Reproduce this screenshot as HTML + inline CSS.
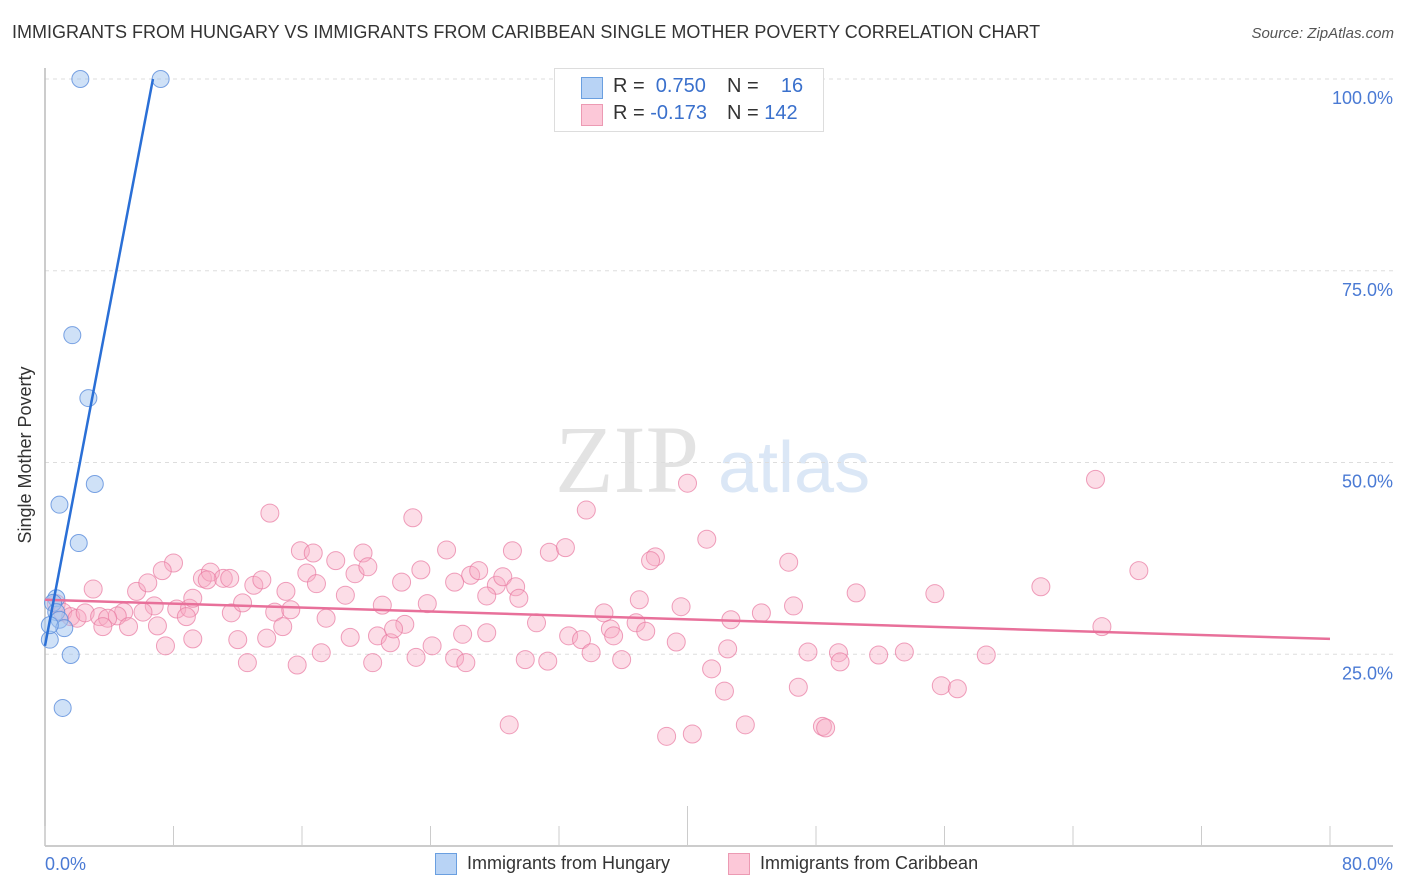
<!DOCTYPE html>
<html><head><meta charset="utf-8">
<style>
body{margin:0;background:#fff;font-family:"Liberation Sans",sans-serif;}
#wrap{position:relative;width:1406px;height:892px;overflow:hidden;}
.t{position:absolute;white-space:nowrap;}
</style></head>
<body>
<div id="wrap">
<div class="t" style="left:12px;top:22px;font-size:18px;color:#333;">IMMIGRANTS FROM HUNGARY VS IMMIGRANTS FROM CARIBBEAN SINGLE MOTHER POVERTY CORRELATION CHART</div>
<div class="t" style="right:12px;top:25px;font-size:15px;color:#555;font-style:italic;">Source: ZipAtlas.com</div>
<svg id="chart" width="1406" height="892" style="position:absolute;left:0;top:0">
<text x="555" y="492" font-family="Liberation Serif,serif" font-size="96" fill="#e3e3e3">ZIP</text>
<text x="718" y="492" font-family="Liberation Sans,sans-serif" font-size="72" fill="#dbe7f6">atlas</text>
<g id="grid"></g><g id="axes"></g><g id="pts"></g><g id="lines"></g>
<text x="19" y="455" transform="rotate(-90 19 455) translate(0 0)" text-anchor="middle" font-size="18" fill="#333" dy="12">Single Mother Poverty</text>
<text x="45" y="870" font-size="18" fill="#4a7ad4">0.0%</text>
<text x="1393" y="870" font-size="18" fill="#4a7ad4" text-anchor="end">80.0%</text>
</svg>
<div style="position:absolute;left:554px;top:68px;width:268px;height:62px;border:1px solid #ddd;background:#fff;font-size:20px;">
 <div style="position:absolute;left:26px;top:8px;width:20px;height:20px;background:#b8d3f5;border:1px solid #6a9fe0;"></div>
 <div class="t" style="left:58px;top:6px;color:#333;">R = <span style="color:#3a70cc">&nbsp;0.750</span></div>
 <div class="t" style="left:172px;top:6px;color:#333;">N = <span style="color:#3a70cc">&nbsp;&nbsp;&nbsp;16</span></div>
 <div style="position:absolute;left:26px;top:35px;width:20px;height:20px;background:#fcc8d8;border:1px solid #ec9ab3;"></div>
 <div class="t" style="left:58px;top:33px;color:#333;">R = <span style="color:#3a70cc">-0.173</span></div>
 <div class="t" style="left:172px;top:33px;color:#333;">N = <span style="color:#3a70cc">142</span></div>
</div>
<div>
 <div style="position:absolute;left:435px;top:853px;width:20px;height:20px;background:#b8d3f5;border:1px solid #6a9fe0;"></div>
 <div class="t" style="left:467px;top:853px;font-size:18px;color:#333;">Immigrants from Hungary</div>
 <div style="position:absolute;left:728px;top:853px;width:20px;height:20px;background:#fcc8d8;border:1px solid #ec9ab3;"></div>
 <div class="t" style="left:760px;top:853px;font-size:18px;color:#333;">Immigrants from Caribbean</div>
</div>
</div>
<script>
const yTicks=[25,50,75,100];
const yTickLabels=["25.0%","50.0%","75.0%","100.0%"];
const xTicks=[0,8,16,24,32,40,48,56,64,72,80];
const hungaryX=[2.2,7.2,1.7,2.7,3.1,0.9,2.1,0.7,0.5,0.7,0.9,1.2,0.3,1.6,1.1,0.3];
const hungaryY=[100,100,66.6,58.4,47.2,44.5,39.5,32.3,31.7,30.5,29.5,28.4,26.9,24.9,18.0,28.8];
const caribX=[14.0,22.9,33.7,40.0,65.4,41.2,25.0,15.9,16.7,18.1,19.8,29.1,31.4,32.4,38.0,37.7,46.3,8.0,7.3,16.3,19.3,20.1,23.4,26.5,27.0,28.1,28.5,29.3,68.1,3.0,5.7,6.4,9.8,10.3,11.1,10.1,11.5,13.0,13.5,15.0,16.9,18.7,22.2,25.5,27.5,29.5,37.0,50.5,55.4,62.0,46.6,39.6,44.6,34.8,4.9,6.8,8.2,9.0,4.5,6.1,11.6,12.3,14.3,15.3,21.0,23.8,17.5,22.4,30.6,36.8,42.7,35.2,35.4,37.4,0.7,1.1,1.6,2.0,2.5,3.4,3.9,3.6,5.2,7.0,8.8,14.8,9.2,19.0,20.7,21.5,24.1,26.0,27.5,32.6,33.4,39.3,42.5,47.5,49.4,51.9,53.5,58.6,65.8,7.5,9.2,12.0,13.8,21.7,17.2,23.1,25.5,26.2,29.9,31.3,34.0,35.9,12.6,15.7,20.4,41.5,42.3,46.9,55.8,56.8,49.5,28.9,38.7,40.3,43.6,48.4,48.6];
const caribY=[43.4,42.8,43.8,47.3,47.8,40.0,38.6,38.5,38.2,37.2,38.2,38.5,38.3,38.9,37.7,37.2,37.0,36.9,35.9,35.6,35.5,36.4,36.0,35.3,35.9,34.0,35.1,33.8,35.9,33.5,33.2,34.3,34.9,35.7,34.9,34.7,34.9,34.0,34.7,33.2,34.2,32.7,34.4,34.4,32.6,32.3,32.1,33.0,32.9,33.8,31.3,31.2,30.4,30.4,30.5,31.3,30.9,31.0,30.0,30.5,30.4,31.7,30.5,30.8,31.4,31.6,29.7,28.9,29.1,29.1,29.5,28.3,27.4,28.0,31.6,30.5,29.9,29.7,30.4,29.9,29.7,28.6,28.6,28.7,29.9,28.6,32.3,27.2,27.4,26.5,26.1,27.6,27.8,27.4,26.9,26.6,25.7,25.3,25.2,24.9,25.3,24.9,28.6,26.1,27.0,26.9,27.1,28.3,25.2,24.6,24.5,23.9,24.3,24.1,25.2,24.3,23.9,23.6,23.9,23.1,20.2,20.7,20.9,20.5,24.0,15.8,14.3,14.6,15.8,15.6,15.4];
const hungaryLine=[[0,26.1],[6.72,100]];
const caribLine=[[0,32.1],[80,27.0]];
const NS="http://www.w3.org/2000/svg";
const sx=v=>45+v/80*1285, sy=v=>846-v/100*767;
function mk(tag,attrs,parent){const e=document.createElementNS(NS,tag);for(const k in attrs)e.setAttribute(k,attrs[k]);document.getElementById(parent).appendChild(e);return e;}
yTicks.forEach((t,i)=>{
 const l=mk('line',{x1:45,x2:1393,y1:sy(t),y2:sy(t),stroke:'#ddd','stroke-dasharray':'4,4'},'grid');
 
 
 const tx=mk('text',{x:1393,y:sy(t)+25,'text-anchor':'end','font-size':18,fill:'#4a7ad4'},'grid');
 tx.textContent=yTickLabels[i];
 
 
});
let a=mk('line',{x1:45,x2:45,y1:68,y2:846,stroke:'#bbb','stroke-width':1.5},'axes');


a=mk('line',{x1:45,x2:1393,y1:846,y2:846,stroke:'#bbb','stroke-width':1.5},'axes');


xTicks.forEach(t=>{
 const l=mk('line',{x1:sx(t),x2:sx(t),y1:t===40?806:826,y2:846,stroke:'#ccc'},'axes');
 
 
});
caribX.forEach((x,i)=>{
 const c=mk('circle',{cx:sx(x),cy:sy(caribY[i]),r:9,fill:'rgba(248,170,195,0.4)',stroke:'rgba(232,120,160,0.7)','stroke-width':1},'pts');
 
 
});
hungaryX.forEach((x,i)=>{
 const c=mk('circle',{cx:sx(x),cy:sy(hungaryY[i]),r:8.5,fill:'rgba(160,195,240,0.5)',stroke:'rgba(90,140,220,0.8)','stroke-width':1},'pts');
 
 
});
let ln=mk('line',{x1:sx(caribLine[0][0]),y1:sy(caribLine[0][1]),x2:sx(caribLine[1][0]),y2:sy(caribLine[1][1]),stroke:'#e8709a','stroke-width':2.5},'lines');


ln=mk('line',{x1:sx(hungaryLine[0][0]),y1:sy(hungaryLine[0][1]),x2:sx(hungaryLine[1][0]),y2:sy(hungaryLine[1][1]),stroke:'#2a6fd6','stroke-width':2.5},'lines');


</script>
</body></html>
